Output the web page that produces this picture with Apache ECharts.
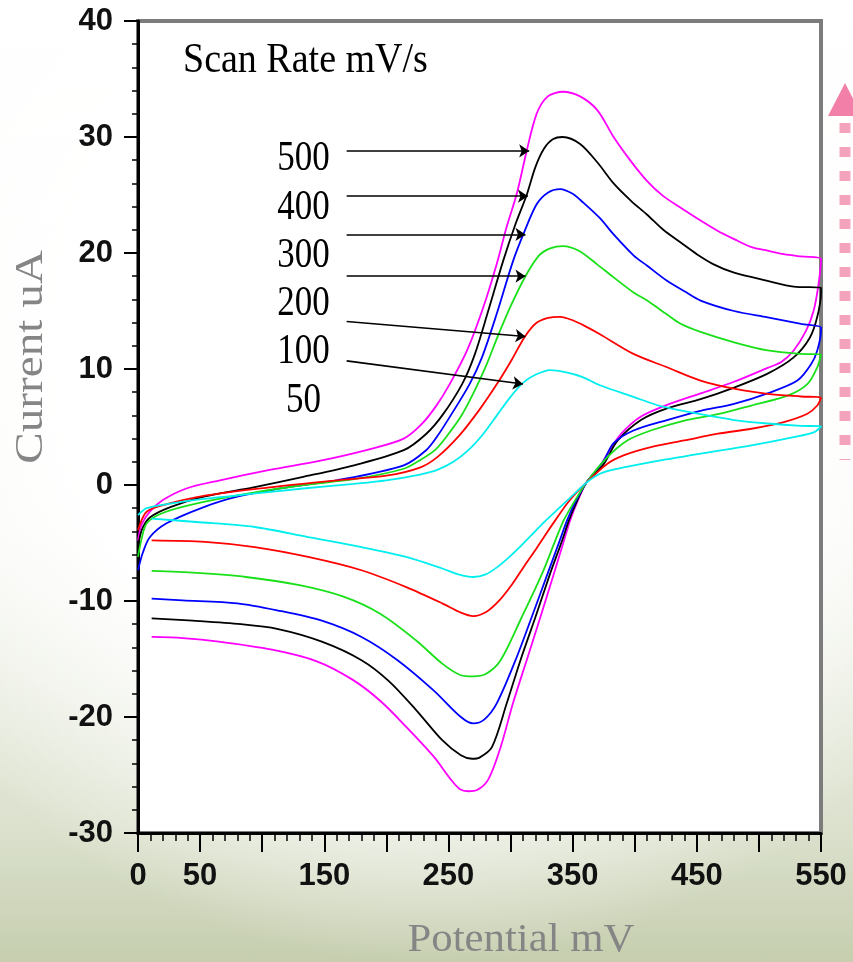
<!DOCTYPE html>
<html><head><meta charset="utf-8">
<script src="https://cdn.jsdelivr.net/npm/echarts@6/dist/echarts.min.js"></script>
<style>
html,body{margin:0;padding:0;}
body{width:853px;height:962px;overflow:hidden;
background:
 radial-gradient(ellipse 72% 62% at 50% 38%, rgba(255,255,255,1) 58%, rgba(255,255,255,0) 100%),
 linear-gradient(to bottom, #ffffff 0%, #f8f9f4 55%, #dbe1cd 86%, #c6ceaf 100%);}
#c{width:853px;height:962px;}
</style></head><body><div id="c"></div>
<script>
// ---- data ----
const scanRates = ['500', '400', '300', '200', '100', '50'];
const xTickLabels = [0, 50, 150, 250, 350, 450, 550];

const cv500 = [[0,-4.8],[3,-3.4],[9.5,-2.3],[20,-1.3],[39,-0.3],[66,0.4],[106,1.3],[147,2.1],[187,3.1],[214,4.0],[228,5.2],[240,6.8],[251,8.7],[265,11.6],[278,15.3],[289,19.1],[297,22.3],[305,25.1],[313,28.8],[321,32.0],[330,33.5],[342,33.9],[356,33.5],[370,32.3],[383,30.0],[397,27.9],[410,26.2],[423,24.9],[437,23.9],[453,22.8],[467,21.9],[480,21.2],[494,20.5],[507,20.2],[520,19.9],[534,19.7],[550,19.5],
 [548,17.3],[544,15.0],[538,13.3],[528,11.6],[518,10.6],[507,10.1],[480,8.9],[453,7.9],[426,6.9],[405,5.9],[389,4.4],[378,2.7],[372,1.6],[361,0.2],[354,-1.4],[348,-3.05],[343,-4.8],[335,-7.6],[324,-11.4],[313,-15.1],[302,-18.8],[292,-22.6],[282,-25.4],[273,-26.3],[266,-26.4],[259,-26.2],[252,-25.4],[238,-23.4],[216,-20.85],[195,-18.6],[173,-16.8],[144,-15.2],[108,-14.2],[65,-13.5],[36,-13.2],[11,-13.1]];

const cv400 = [[0,-5.4],[3,-3.9],[9.5,-2.8],[26,-1.9],[53,-1.0],[93,-0.2],[133,0.7],[174,1.7],[214,3.0],[232,4.4],[245,6.0],[261,8.7],[271,11.2],[282,15.0],[294,19.3],[304,22.5],[313,25.0],[320,27.4],[327,29.0],[334,29.8],[342,30.0],[356,29.4],[370,27.8],[383,26.0],[397,24.5],[410,23.3],[423,22.0],[437,20.9],[450,19.9],[464,19.0],[480,18.3],[507,17.6],[528,17.1],[550,17.0],
 [550,16.6],[547,14.5],[541,12.7],[528,11.0],[507,9.6],[480,8.4],[453,7.4],[426,6.6],[405,5.6],[386,3.8],[375,1.8],[361,0.2],[353,-1.5],[347,-3.05],[341.5,-4.8],[332,-7.6],[320,-11.4],[308,-15.1],[297,-18.8],[285,-22.6],[275,-23.5],[269,-23.6],[260,-23.3],[245,-22.0],[224,-19.4],[202,-16.9],[180,-15.1],[148,-13.5],[112,-12.4],[83,-12.0],[44,-11.7],[11,-11.5]];

const cv300 = [[0,-7.35],[4,-5.8],[9.5,-4.5],[23,-3.3],[53,-1.9],[80,-1.0],[120,-0.2],[160,0.4],[214,1.7],[232,3.0],[241,4.2],[253,6.2],[267,8.7],[277,11.0],[289,14.8],[302,19.3],[311,21.8],[321,24.2],[330,25.2],[340,25.5],[350,25.1],[358,24.4],[372,23.0],[383,21.6],[399,19.8],[410,18.9],[426,17.6],[440,16.7],[453,15.9],[480,15.0],[507,14.46],[534,13.9],[550,13.6],
 [550,13.3],[547,11.6],[542,10.4],[531,9.0],[507,7.9],[480,7.0],[453,6.4],[426,5.6],[399,4.7],[383,3.6],[375,2.1],[361,0.2],[352,-1.5],[345.5,-3.05],[339.6,-4.8],[330,-7.6],[317,-11.4],[304,-15.1],[289,-18.8],[279,-20.2],[270,-20.55],[260,-20.0],[238,-17.7],[209,-15.1],[180,-13.1],[148,-11.7],[112,-10.8],[80,-10.2],[36,-9.94],[11,-9.8]];

const cv200 = [[0,-6.2],[3,-4.6],[7,-3.3],[18,-2.5],[39,-1.8],[80,-0.9],[133,0.0],[174,0.5],[214,1.4],[228,2.2],[240,3.1],[250,4.4],[260,5.9],[270,7.9],[280,10.2],[290,12.9],[300,15.4],[312,18.0],[323,19.8],[332,20.4],[342,20.6],[355,20.2],[370,19.0],[383,17.9],[399,16.6],[410,15.9],[426,14.7],[437,13.9],[453,13.2],[480,12.3],[507,11.6],[534,11.3],[550,11.25],
 [547,10.15],[539,8.7],[523,7.7],[494,6.85],[467,6.1],[440,5.56],[413,4.7],[394,3.84],[378,2.4],[361,0.2],[351,-1.5],[342.8,-3.05],[336,-4.8],[325.4,-7.64],[309,-11.4],[292,-15.1],[280,-16.3],[270,-16.5],[260,-16.4],[245,-15.4],[224,-13.4],[195,-11.1],[166,-9.65],[130,-8.64],[87,-7.93],[47,-7.58],[11,-7.41]];

const cv100 = [[0,-3.9],[3,-3.0],[7,-2.3],[18,-1.8],[55,-0.9],[106,-0.2],[160,0.4],[200,0.8],[227,1.5],[241,2.4],[259,4.3],[275,6.5],[289,8.7],[301,10.8],[311,12.7],[320,13.9],[330,14.4],[340,14.5],[350,14.2],[360,13.7],[372,13.0],[399,11.3],[426,10.15],[453,9.0],[480,8.3],[507,7.86],[534,7.63],[550,7.52],
 [547,6.85],[539,6.14],[520,5.42],[494,4.85],[467,4.42],[440,3.84],[413,3.26],[391,2.55],[378,1.83],[361,0.2],[347,-1.4],[336,-3.05],[328,-4.3],[320,-5.6],[311,-7.0],[301,-8.6],[291,-9.95],[281,-10.9],[270,-11.3],[260,-11.0],[245,-10.2],[216,-8.8],[180,-7.35],[137,-6.2],[94,-5.35],[54,-4.9],[11,-4.77]];

const cv50 = [[0,-2.6],[7,-2.0],[26,-1.6],[53,-1.2],[93,-0.75],[133,-0.3],[174,0.1],[200,0.4],[227,0.9],[241,1.3],[254,2.0],[266,3.0],[278,4.4],[289,6.0],[300,7.6],[310,8.8],[320,9.5],[332,9.9],[345,9.7],[358,9.3],[372,8.6],[399,7.6],[421,6.8],[453,6.1],[480,5.6],[507,5.3],[534,5.1],[550,5.05],
 [544.6,4.56],[528,4.12],[494,3.41],[453,2.7],[413,1.97],[386,1.4],[372,0.97],[361,0.2],[350,-0.9],[339,-2.0],[327,-3.2],[317,-4.3],[307,-5.4],[298,-6.3],[289,-7.1],[280,-7.7],[270,-7.93],[258,-7.7],[245,-7.2],[216,-6.2],[180,-5.35],[137,-4.49],[94,-3.62],[47,-3.19],[11,-2.9]];

const curves = [cv500, cv400, cv300, cv200, cv100, cv50];
// annotation arrows (data coordinates): start and tip
const arrowFrom = [[168,28.8],[168,24.9],[168,21.6],[168,18.0],[168,14.1],[168,10.7]];
const arrowTo   = [[315,28.8],[314,24.9],[312,21.6],[312,18.0],[312,12.8],[310,8.7]];

// ---- styles ----
const lineColors = ['#ff00ff', '#000000', '#0000ff', '#19e019', '#ff0000', '#00eeee'];
const tickFont = "'Liberation Sans',Arial,sans-serif";
const serif = "'Liberation Serif','Times New Roman',serif";
const labelY = [159, 208, 256, 304, 352, 401];

const chart = echarts.init(document.getElementById('c'), null, {renderer: 'canvas'});

const series = curves.map((d, i) => ({
  name: scanRates[i], type: 'line', data: d, smooth: 0.3, showSymbol: false,
  lineStyle: {color: lineColors[i], width: 1.8}, itemStyle: {color: lineColors[i]},
  animation: false, silent: true, z: 3
}));
series.push({
  type: 'line', data: [], silent: true, animation: false,
  itemStyle: {color: '#000'},
  markLine: {
    silent: true, animation: false, symbol: ['none', 'arrow'], symbolSize: 10,
    label: {show: false},
    itemStyle: {color: '#000'},
    lineStyle: {color: '#000', width: 1.6, type: 'solid'},
    data: arrowFrom.map((p, i) => [{coord: p}, {coord: arrowTo[i]}])
  }
});

const graphics = [
  {type: 'text', x: 183, y: 61, scaleY: 1.12, z: 10,
   style: {text: 'Scan Rate mV/s', font: '38px ' + serif, fill: '#000', align: 'left', verticalAlign: 'middle'}},
  {type: 'text', x: 31, y: 357, rotation: Math.PI / 2, scaleX: 1.18, z: 10,
   style: {text: 'Current uA', font: '40px ' + serif, fill: '#858585', align: 'center', verticalAlign: 'middle'}},
  {type: 'text', x: 521, y: 940, scaleX: 1.07, z: 10,
   style: {text: 'Potential mV', font: '40px ' + serif, fill: '#858585', align: 'center', verticalAlign: 'middle'}},
  {type: 'polygon', z: 10, shape: {points: [[845, 83], [828, 116], [862, 116]]},
   style: {fill: '#f27fa7'}},
  {type: 'line', z: 10, shape: {x1: 845, y1: 123, x2: 845, y2: 460},
   style: {stroke: '#f5a3bd', lineWidth: 11, lineDash: [10, 14]}}
];
scanRates.forEach((t, i) => graphics.push({
  type: 'text', x: 303.5, y: labelY[i], scaleY: 1.18, z: 10,
  style: {text: t, font: '35px ' + serif, fill: '#000', align: 'center', verticalAlign: 'middle'}
}));

chart.setOption({
  animation: false,
  backgroundColor: 'transparent',
  grid: {left: 138, right: 32, top: 21, bottom: 129, show: true, backgroundColor: '#ffffff',
         borderColor: '#7c7c7c', borderWidth: 4},
  xAxis: {
    type: 'value', min: 0, max: 550, interval: 50,
    axisLine: {show: true, onZero: false, lineStyle: {color: '#000', width: 3}},
    axisTick: {show: true, length: 19, lineStyle: {color: '#000', width: 2}},
    minorTick: {show: true, splitNumber: 5, length: 8, lineStyle: {color: '#000', width: 1.5}},
    splitLine: {show: false},
    axisLabel: {margin: 28, color: '#111', fontSize: 31, fontWeight: 'bold', fontFamily: tickFont,
      formatter: v => xTickLabels.indexOf(v) >= 0 ? String(v) : ''}
  },
  yAxis: {
    type: 'value', min: -30, max: 40, interval: 10,
    axisLine: {show: true, onZero: false, lineStyle: {color: '#000', width: 3}},
    axisTick: {show: true, length: 14, lineStyle: {color: '#000', width: 2}},
    minorTick: {show: true, splitNumber: 5, length: 6, lineStyle: {color: '#000', width: 1.5}},
    splitLine: {show: false},
    axisLabel: {margin: 25, color: '#111', fontSize: 31, fontWeight: 'bold', fontFamily: tickFont}
  },
  series: series,
  graphic: graphics
});
</script>
</body></html>
